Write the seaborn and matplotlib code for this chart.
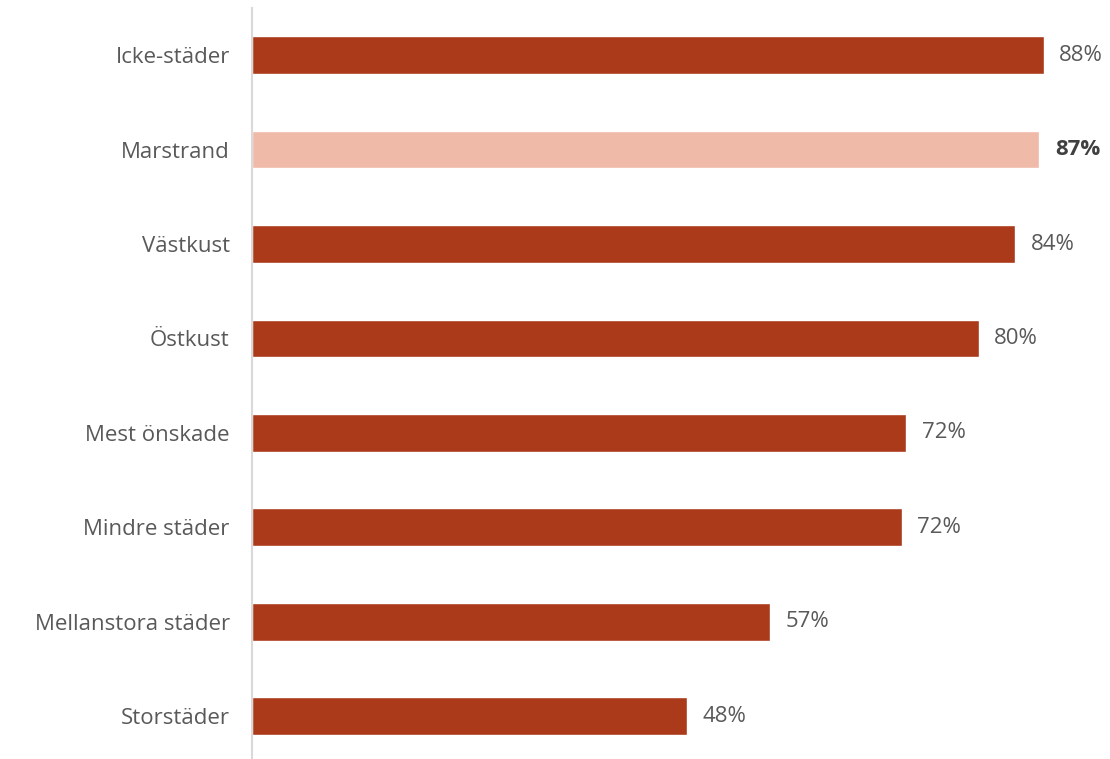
import matplotlib
matplotlib.use("Agg")
import matplotlib.pyplot as plt
import seaborn as sns
import pandas as pd

categories = ["Icke-städer", "Marstrand", "Västkust", "Östkust", "Mest önskade",
              "Mindre städer", "Mellanstora städer", "Storstäder"]
values = [87.6, 87.1, 84.45, 80.4, 72.4, 71.9, 57.3, 48.1]
labels = ["88%", "87%", "84%", "80%", "72%", "72%", "57%", "48%"]
highlight = "Marstrand"

dark = "#AB3A1A"
light = "#F0BAA8"
text_col = "#595959"

df = pd.DataFrame({"category": categories, "value": values})
palette = {c: (light if c == highlight else dark) for c in categories}

sns.set_style("white")
plt.rcParams["font.family"] = ["Open Sans", "DejaVu Sans"]

fig = plt.figure(figsize=(11.10, 7.59), dpi=100)
ax = fig.add_axes([252 / 1110, 0, 1 - 252 / 1110, 1 - 8 / 759])

sns.barplot(data=df, x="value", y="category", hue="category", palette=palette,
            order=categories, hue_order=categories, width=0.4, legend=False,
            saturation=1, ax=ax)

ax.set_xlim(0, (1110 - 252) / 9.04)
ax.set_ylim(7.455, -0.5)
ax.set_xlabel("")
ax.set_ylabel("")
ax.set_xticks([])
ax.tick_params(axis="y", length=0, pad=16, labelsize=16, labelcolor=text_col)

for s in ["top", "right", "bottom"]:
    ax.spines[s].set_visible(False)
ax.spines["left"].set_color("#D9D9D9")
ax.spines["left"].set_linewidth(1.5)

for i, (c, v, lab) in enumerate(zip(categories, values, labels)):
    bold = c == highlight
    ax.text(v + 1.7, i, lab, va="center", ha="left", fontsize=16,
            color="#404040" if bold else text_col,
            fontweight="bold" if bold else "normal")

fig.savefig("out.png", dpi=100)
